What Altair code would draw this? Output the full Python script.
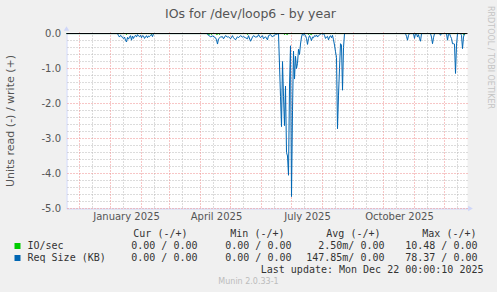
import altair as alt
import pandas as pd

# ---------------- data ----------------
START = "2024-11-18"          # first day of the 400-day window
END = "2025-12-24"

# Req Size (KB), read side (negative), day offsets from START
req_days = [0, 51, 52, 53, 54, 55, 56, 57, 58, 59, 60, 61, 62, 63, 64, 65, 66, 67, 68, 69,
            70, 71, 72, 73, 74, 75, 76, 77, 78, 79, 80, 81, 82, 83, 84, 85, 86, 87,
            140, 141, 142, 144, 146, 149, 150, 151, 152, 154, 156, 157, 159, 161, 162, 164,
            166, 167, 169, 171, 172, 174, 176, 177, 179, 181, 182, 184, 186, 187, 189, 191,
            192, 194, 196, 197, 199, 201, 202, 204, 206, 207, 209, 211,
            212, 213, 214, 215, 216, 217, 218, 219, 220, 221, 222, 223, 224, 225, 226, 227,
            228, 229, 230, 231, 232, 233, 234, 235, 236,
            237, 238, 239, 240, 241, 242, 243, 244, 245, 246, 247, 248, 249, 250, 251, 252,
            253, 254, 255, 256, 257, 258, 259, 260, 261, 262, 263, 264, 265, 266, 267, 268,
            269, 270, 271, 272, 273, 274, 275, 276, 277, 278,
            339, 340, 341, 342, 343, 347, 348, 349, 350, 351, 352, 353, 354, 355,
            364, 365, 366, 367, 368, 373, 374, 375, 380, 381, 382, 383, 384, 385, 386, 387,
            388, 389, 390, 391, 394, 395, 396, 397, 398, 399]
req_vals = [0, 0, -0.06, -0.10, -0.05, -0.07, -0.12, -0.14, -0.10, -0.19, -0.24, -0.11, -0.16, -0.10, -0.06, -0.19, -0.07, -0.14, -0.08, -0.05,
            -0.10, -0.03, -0.07, -0.09, -0.05, -0.12, -0.06, -0.07, -0.14, -0.10, -0.06, -0.12, -0.07, -0.09, -0.05, -0.03, -0.09, 0,
            0, -0.03, -0.05, -0.09, -0.07, -0.12, -0.18, -0.30, -0.15, -0.10, -0.09, -0.15, -0.06, -0.10, -0.09, -0.15,
            -0.06, -0.12, -0.18, -0.09, -0.12, -0.06, -0.10, -0.09, -0.12, -0.15, -0.06, -0.22, -0.10, -0.06, -0.10, -0.09,
            -0.03, -0.12, -0.06, -0.15, -0.09, -0.18, -0.06, -0.03, -0.10, -0.06, -0.03, -0.01,
            0, -0.90, -1.80, -2.66, -0.80, -1.80, -2.63, -1.50, -3.40, -3.50, -4.05, -1.50, -0.35, -4.66, -2.20, -0.50,
            -1.30, -0.65, -1.00, -0.85, -0.45, -0.60, -0.30, -0.10, 0,
            -0.05, -0.02, -0.06, -0.14, -0.31, -0.14, -0.06, -0.12, -0.20, -0.10, -0.12, -0.06, -0.08, -0.04, -0.10, -0.06,
            -0.04, -0.02, 0, -0.02, 0, -0.05, -0.14, -0.10, -0.08, -0.18, -0.10, -0.06, -0.12, -0.05, -0.18, -0.33,
            -0.52, -0.68, -2.72, -1.76, -1.00, -0.29, -0.33, -1.62, -0.40, 0,
            0, -0.08, -0.19, -0.05, 0, 0, -0.14, 0, 0, -0.10, -0.03, -0.14, -0.22, 0,
            0, -0.10, -0.29, -0.12, 0, 0, -0.05, 0, 0, -0.19, -0.02, 0, -0.08, -0.14, -0.29, -0.29,
            -0.30, -1.14, -0.33, 0, 0, -0.05, -0.43, -0.10, 0, 0]

# IO/sec, read side (negative), day offsets from START
io_days = [0, 59, 60, 61, 84, 85, 86, 141, 142, 143, 144, 145, 146, 149, 150, 151, 152, 153, 154,
           180, 181, 182, 217, 218, 219, 220, 221, 222, 241, 242, 243, 244, 245, 246, 396, 397, 398, 399]
io_vals = [0, 0, -0.03, 0, 0, -0.03, 0, 0, -0.03, -0.02, 0, -0.03, 0, 0, -0.03, -0.02, 0, -0.03, 0,
           0, -0.03, 0, 0, -0.03, 0, -0.02, -0.03, 0, 0, -0.03, 0, -0.02, -0.03, 0, 0, -0.03, -0.03, 0]

y_ticks = [0, -1, -2, -3, -4, -5]
y_minor = [-0.2, -0.4, -0.6, -0.8, -1.2, -1.4, -1.6, -1.8, -2.2, -2.4, -2.6, -2.8, -3.2, -3.4,
           -3.6, -3.8, -4.2, -4.4, -4.6, -4.8]
x_label_dates = ["2025-01-16", "2025-04-16", "2025-07-16", "2025-10-16"]

title_text = "IOs for /dev/loop6 - by year"
y_title = "Units read (-) / write (+)"
legend_header = ["Cur (-/+)", "Min (-/+)", "Avg (-/+)", "Max (-/+)"]
legend_names = ["IO/sec", "Req Size (KB)"]
legend_colors = ["#00cc00", "#0066b3"]
legend_rows = [["0.00 / 0.00", "0.00 / 0.00", "2.50m/ 0.00", "10.48 / 0.00"],
               ["0.00 / 0.00", "0.00 / 0.00", "147.85m/ 0.00", "78.37 / 0.00"]]
last_update = "Last update: Mon Dec 22 00:00:10 2025"
munin_ver = "Munin 2.0.33-1"
rrd_credit = "RRDTOOL / TOBI OETIKER"

# ---------------- build tables ----------------
start = pd.Timestamp(START)
req_df = pd.DataFrame({"date": start + pd.to_timedelta(req_days, unit="D"), "val": req_vals})
io_df = pd.DataFrame({"date": start + pd.to_timedelta(io_days, unit="D"), "val": io_vals})
month_starts = pd.date_range("2024-12-01", "2025-12-01", freq="MS")
mid_months = month_starts + pd.Timedelta(days=13)
major_v = pd.DataFrame({"date": month_starts})
minor_v = pd.DataFrame({"date": mid_months})
major_h = pd.DataFrame({"v": y_ticks[1:]})
minor_h = pd.DataFrame({"v": y_minor})
zero_h = pd.DataFrame({"v": [0]})

SANS = "DejaVu Sans"
MONO = "DejaVu Sans Mono"
FONTC = "#555555"
LEGC = "#333333"
AXISC = "#cfd6f8"
GRIDC = "#b8b8b8"
MGRIDC = "#ee8c8c"


def dt(s):
    t = pd.Timestamp(s)
    return alt.DateTime(year=t.year, month=t.month, date=t.day, hours=12 if s in x_label_dates else 0)


xscale = alt.Scale(domain=[dt(START), dt(END)])
yscale = alt.Scale(domain=[-5, 0.03], nice=False, zero=False)
xaxis = alt.Axis(values=[dt(s) for s in x_label_dates], labelExpr="timeFormat(datum.value, '%B %Y')",
                 ticks=False, tickSize=0, grid=False, domainColor=AXISC, labelFont=SANS,
                 labelFontSize=10, labelColor=FONTC, labelPadding=3, title=None,
                 labelOverlap=False, labelFlush=False)
yaxis = alt.Axis(values=y_ticks,
                 labelExpr="datum.value == 0 ? '0.0' : '-' + format(-datum.value, '.1f')",
                 ticks=False, tickSize=0, grid=False, domainColor=AXISC, labelFont=SANS,
                 labelFontSize=10, labelColor=FONTC, labelPadding=6, labelOverlap=False,
                 title=y_title, titleFont=SANS, titleFontSize=11, titleFontWeight="normal",
                 titleColor=FONTC, titleX=-56, titleY=88, titleAngle=270,
                 titleBaseline="middle", titleAlign="center")

X = alt.X("date:T", scale=xscale, axis=xaxis)
Yv = alt.Y("v:Q", scale=yscale, axis=yaxis)
Yval = alt.Y("val:Q", scale=yscale, axis=yaxis)

layers = []
layers.append(alt.Chart(minor_h).mark_rule(color=GRIDC, strokeDash=[1, 2], strokeWidth=1).encode(y=Yv))
layers.append(alt.Chart(minor_v).mark_rule(color=GRIDC, strokeDash=[1, 2], strokeWidth=1).encode(x=X))
layers.append(alt.Chart(major_h).mark_rule(color=MGRIDC, strokeDash=[1, 2], strokeWidth=1).encode(y=Yv))
layers.append(alt.Chart(major_v).mark_rule(color=MGRIDC, strokeDash=[1, 2], strokeWidth=1).encode(x=X))
layers.append(alt.Chart(io_df).mark_line(color=legend_colors[0], strokeWidth=1).encode(x=X, y=Yval))
layers.append(alt.Chart(req_df).mark_line(color=legend_colors[1], strokeWidth=1).encode(x=X, y=Yval))
layers.append(alt.Chart(zero_h).mark_rule(color="#000000", strokeWidth=1).encode(y=Yv))

one = pd.DataFrame({"k": [0]})


def txt(s, x, y, align="left", size=10, font=MONO, color=LEGC, angle=0):
    return alt.Chart(pd.DataFrame({"t": [s]})).mark_text(
        align=align, baseline="middle", fontSize=size, font=font, color=color, angle=angle
    ).encode(x=alt.value(x), y=alt.value(y), text="t:N")


# arrows at axis ends
layers.append(alt.Chart(one).mark_point(shape="triangle-up", filled=True, color=AXISC, size=30, opacity=1)
              .encode(x=alt.value(0), y=alt.value(-4)))
layers.append(alt.Chart(one).mark_point(shape="triangle-right", filled=True, color=AXISC, size=30, opacity=1)
              .encode(x=alt.value(404), y=alt.value(176)))

# title & credits
layers.append(txt(title_text, 184, -19, align="center", size=12.5, font=SANS, color=FONTC))
layers.append(txt(rrd_credit, 423, 25, align="center", size=8, font=SANS, color="#c4c4c4", angle=90))
layers.append(txt(munin_ver, 182, 249, align="center", size=8, font=SANS, color="#bcbcbc"))

# legend table
col_ends = [131, 225, 318, 411]
head_ends = [121, 218, 314, 410]
for h, xe in zip(legend_header, head_ends):
    layers.append(txt(h, xe, 201, align="right"))
row_y = [213.5, 225.5]
for name, color, vals, ry in zip(legend_names, legend_colors, legend_rows, row_y):
    layers.append(alt.Chart(one).mark_square(size=36, color=color, opacity=1)
                  .encode(x=alt.value(-49), y=alt.value(ry)))
    layers.append(txt(name, -39, ry))
    for v, xe in zip(vals, col_ends):
        layers.append(txt(v, xe, ry, align="right"))
layers.append(txt(last_update, 417, 237, align="right"))

chart = alt.layer(*layers).properties(
    width=401, height=176,
    padding={"left": 66.5, "top": 32.5, "right": 29.5, "bottom": 83.5},
    autosize=alt.AutoSizeParams(type="none"),
    background="#f0f0f0",
).configure_view(fill="white", stroke=None)

chart.save("out.html", embed_options={"renderer": "svg", "actions": False})
